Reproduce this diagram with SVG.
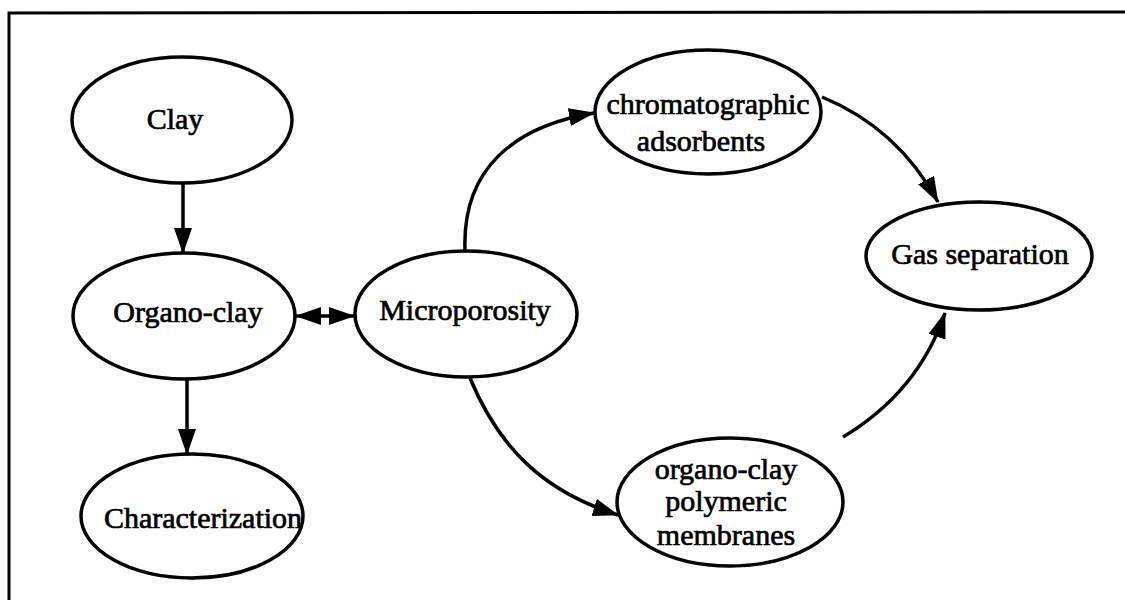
<svg xmlns="http://www.w3.org/2000/svg" width="1125" height="602" viewBox="0 0 1125 602">
  <style>
    .node { fill: #ffffff; stroke: #000000; stroke-width: 3.5; }
    .lbl { font-family: "Liberation Serif", "Times New Roman", serif; font-size: 30px; fill: #000000; text-anchor: middle; stroke: #000000; stroke-width: 0.7; }
    .edge { fill: none; stroke: #000000; stroke-width: 3.5; }
    .frame { fill: none; stroke: #000000; stroke-width: 3; }
  </style>
  <defs>
    <marker id="arrow" viewBox="0 0 26 18" markerWidth="26" markerHeight="18" refX="25" refY="9" orient="auto-start-reverse" markerUnits="userSpaceOnUse">
      <path d="M0,0 L26,9 L0,18 z" fill="#000000"/>
    </marker>
  </defs>
  <rect width="1125" height="602" fill="#ffffff"/>
  <path class="frame" d="M9,600 L9,13 L1125,12"/>

  <g id="connectors">
    <path class="edge" d="M183,183 L183,253" marker-end="url(#arrow)"/>
    <path class="edge" d="M187,379 L187,454" marker-end="url(#arrow)"/>
    <path class="edge" d="M296,316 L354,316" marker-start="url(#arrow)" marker-end="url(#arrow)"/>
    <path class="edge" d="M465,250 C462,168 515,126 594,113" marker-end="url(#arrow)"/>
    <path class="edge" d="M822,97 C878,120 914,158 938,202" marker-end="url(#arrow)"/>
    <path class="edge" d="M470,378 C500,450 545,492 618,515" marker-end="url(#arrow)"/>
    <path class="edge" d="M843,437 C888,410 925,372 945,313" marker-end="url(#arrow)"/>
  </g>

  <g id="clay">
    <ellipse class="node" cx="182" cy="120" rx="110" ry="63"/>
    <text class="lbl" x="175" y="129">Clay</text>
  </g>
  <g id="organo-clay">
    <ellipse class="node" cx="184" cy="316" rx="111" ry="63"/>
    <text class="lbl" x="188" y="322">Organo-clay</text>
  </g>
  <g id="characterization">
    <ellipse class="node" cx="192" cy="516" rx="111" ry="62"/>
    <text class="lbl" x="203" y="528">Characterization</text>
  </g>
  <g id="microporosity">
    <ellipse class="node" cx="466" cy="314" rx="111" ry="63"/>
    <text class="lbl" x="465" y="320">Microporosity</text>
  </g>
  <g id="chromatographic">
    <ellipse class="node" cx="708" cy="112" rx="113" ry="62"/>
    <text class="lbl" x="708" y="114">chromatographic</text>
    <text class="lbl" x="701" y="151">adsorbents</text>
  </g>
  <g id="gas-separation">
    <ellipse class="node" cx="979" cy="256" rx="113" ry="54"/>
    <text class="lbl" x="980" y="264">Gas separation</text>
  </g>
  <g id="membranes">
    <ellipse class="node" cx="730" cy="502" rx="113" ry="64"/>
    <text class="lbl" x="726" y="479">organo-clay</text>
    <text class="lbl" x="726" y="511">polymeric</text>
    <text class="lbl" x="726" y="545">membranes</text>
  </g>
</svg>
